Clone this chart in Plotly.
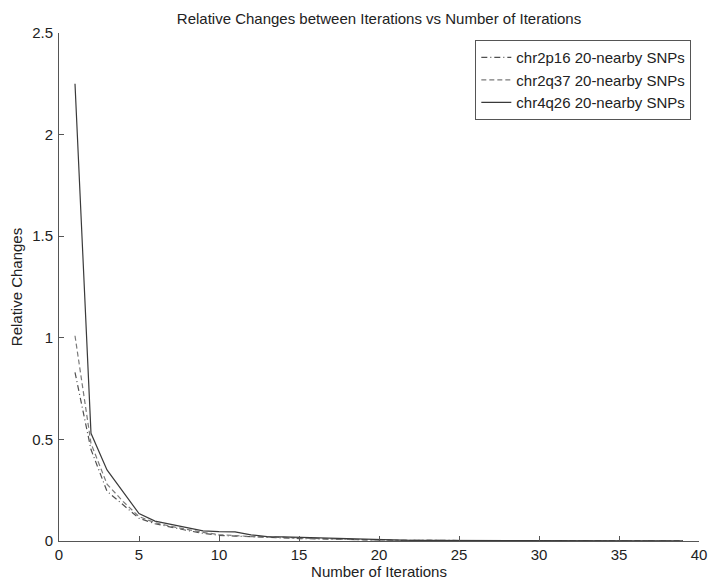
import plotly.graph_objects as go

iterations = list(range(1, 40))

chr2p16 = [0.83, 0.45, 0.245, 0.18, 0.112, 0.085, 0.068, 0.052, 0.038, 0.028,
           0.024, 0.020, 0.018, 0.015, 0.012, 0.010, 0.008, 0.006, 0.005, 0.004,
           0.0035, 0.003, 0.0027, 0.0024, 0.0021, 0.0019, 0.0017, 0.0015, 0.0013, 0.0012,
           0.0011, 0.0010, 0.0009, 0.0008, 0.0007, 0.0006, 0.0005, 0.0005, 0.0004]
chr2q37 = [1.01, 0.48, 0.28, 0.195, 0.12, 0.09, 0.072, 0.057, 0.042, 0.032,
           0.026, 0.022, 0.020, 0.017, 0.015, 0.012, 0.010, 0.008, 0.006, 0.004,
           0.0035, 0.003, 0.0027, 0.0024, 0.0021, 0.0019, 0.0017, 0.0015, 0.0013, 0.0012,
           0.0011, 0.0010, 0.0009, 0.0008, 0.0007, 0.0006, 0.0005, 0.0005, 0.0004]
chr4q26 = [2.25, 0.53, 0.35, 0.245, 0.135, 0.098, 0.082, 0.068, 0.050, 0.046,
           0.045, 0.030, 0.022, 0.020, 0.018, 0.015, 0.012, 0.009, 0.007, 0.005,
           0.004, 0.0035, 0.003, 0.0027, 0.0024, 0.0021, 0.0019, 0.0017, 0.0015, 0.0013,
           0.0012, 0.0011, 0.0010, 0.0009, 0.0008, 0.0007, 0.0006, 0.0005, 0.0005]

series_names = ["chr2p16 20-nearby SNPs", "chr2q37 20-nearby SNPs", "chr4q26 20-nearby SNPs"]

font = "Liberation Sans, Arial, sans-serif"

fig = go.Figure()
fig.add_trace(go.Scatter(x=iterations, y=chr2p16, mode="lines", name=series_names[0],
                         line=dict(color="#505050", width=1.2, dash="6px,3px,1px,3px")))
fig.add_trace(go.Scatter(x=iterations, y=chr2q37, mode="lines", name=series_names[1],
                         line=dict(color="#7a7a7a", width=1.2, dash="5px,3px")))
fig.add_trace(go.Scatter(x=iterations, y=chr4q26, mode="lines", name=series_names[2],
                         line=dict(color="#3a3a3a", width=1.2)))

# page body has an 8px default margin; the figure is sized/offset to compensate
fig.update_layout(
    width=708, height=577,
    margin=dict(l=44, r=9, t=25, b=38, pad=0),
    paper_bgcolor="white", plot_bgcolor="white",
    font=dict(family=font, size=15, color="#222222"),
    title=dict(text="Relative Changes between Iterations vs Number of Iterations",
               x=0.5, xref="paper", xanchor="center", y=0.981, yref="container",
               yanchor="middle",
               font=dict(size=15, color="#222222")),
    xaxis=dict(range=[0, 40], dtick=5, tick0=0, showline=True, linecolor="#555555",
               linewidth=1, ticks="inside", ticklen=5, tickcolor="#555555",
               showgrid=False, zeroline=False, mirror=False,
               tickfont=dict(size=15), ticklabelstandoff=0,
               title=dict(text="Number of Iterations", font=dict(size=15), standoff=2)),
    yaxis=dict(range=[0, 2.5], dtick=0.5, tick0=0, showline=True, linecolor="#555555",
               linewidth=1, ticks="inside", ticklen=5, tickcolor="#555555",
               showgrid=False, zeroline=False, mirror=False,
               tickfont=dict(size=15), ticklabelstandoff=2,
               title=dict(text="Relative Changes", font=dict(size=15), standoff=5)),
    legend=dict(x=0.988, y=0.986, xanchor="right", yanchor="top",
                bordercolor="#555555", borderwidth=1, bgcolor="white",
                font=dict(size=15), tracegroupgap=0, itemwidth=30),
    showlegend=True,
)

fig.write_html("out.html")
